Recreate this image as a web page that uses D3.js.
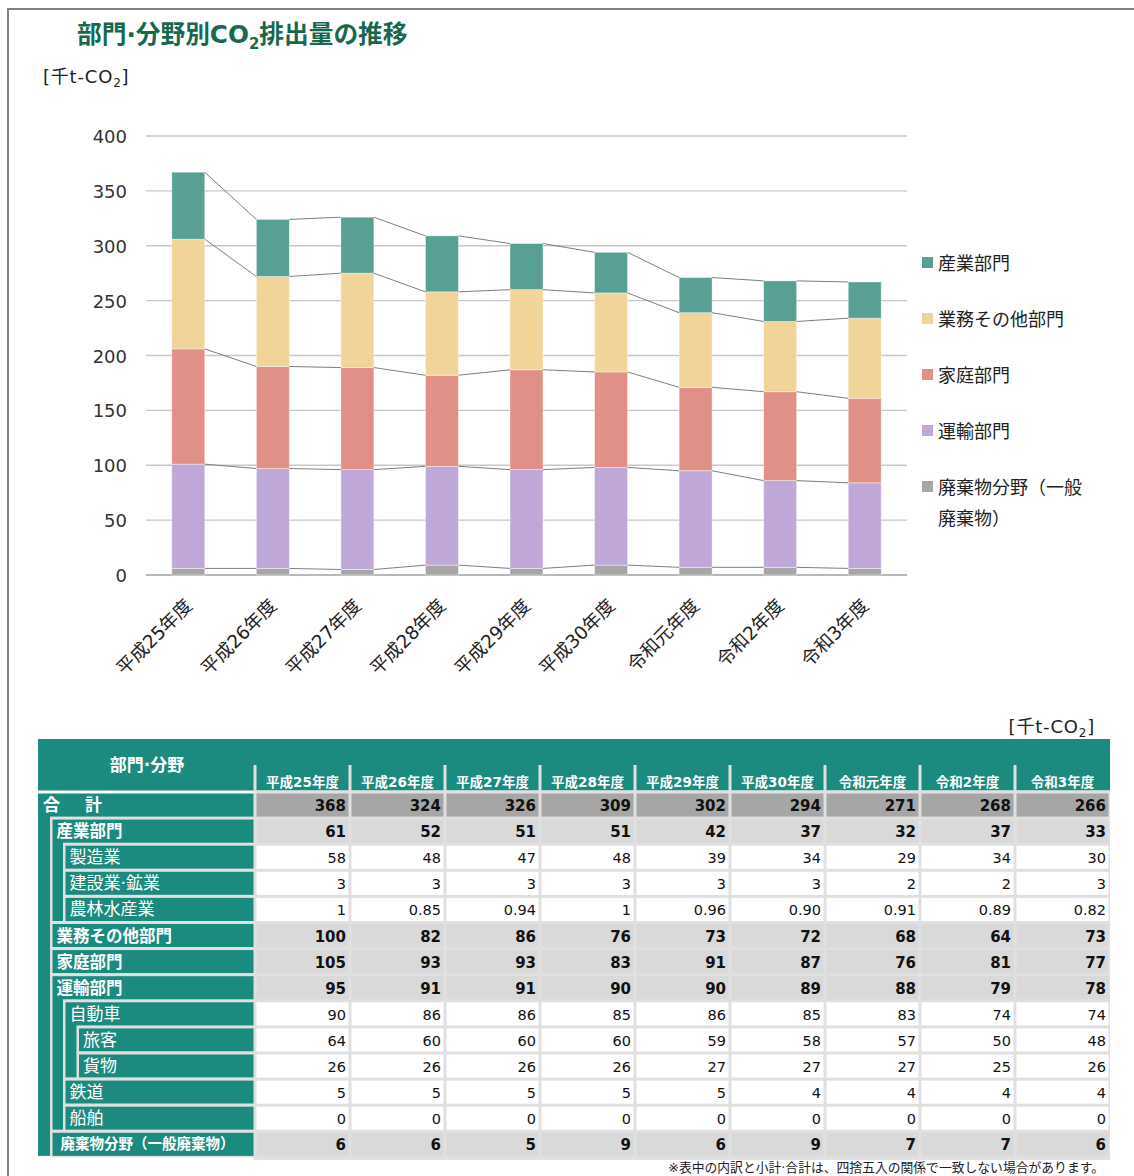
<!DOCTYPE html>
<html>
<head>
<meta charset="utf-8">
<script src="https://cdn.jsdelivr.net/npm/d3@7"></script>
<style>
  body { margin: 0; background: #fff; }
  svg text { font-family: "DejaVu Sans", "Noto Sans CJK JP", sans-serif; }
</style>
</head>
<body>
<div id="container"></div>
<script>
// years on the x axis / table columns
const years = ["平成25年度", "平成26年度", "平成27年度", "平成28年度", "平成29年度", "平成30年度", "令和元年度", "令和2年度", "令和3年度"];

// stacked series (千t-CO2)
const sangyo = [61, 52, 51, 51, 42, 37, 32, 37, 33];
const gyomu = [100, 82, 86, 76, 73, 72, 68, 64, 73];
const katei = [105, 93, 93, 83, 91, 87, 76, 81, 77];
const unyu = [95, 91, 91, 90, 90, 89, 88, 79, 78];
const haiki = [6, 6, 5, 9, 6, 9, 7, 7, 6];

// breakdown rows of the table
const total = [368, 324, 326, 309, 302, 294, 271, 268, 266];
const seizo = [58, 48, 47, 48, 39, 34, 29, 34, 30];
const kensetsu = [3, 3, 3, 3, 3, 3, 2, 2, 3];
const norin = [1, 0.85, 0.94, 1, 0.96, 0.90, 0.91, 0.89, 0.82];
const jidosha = [90, 86, 86, 85, 86, 85, 83, 74, 74];
const ryokaku = [64, 60, 60, 60, 59, 58, 57, 50, 48];
const kamotsu = [26, 26, 26, 26, 27, 27, 27, 25, 26];
const tetsudo = [5, 5, 5, 5, 5, 4, 4, 4, 4];
const senpaku = [0, 0, 0, 0, 0, 0, 0, 0, 0];

const yTicks = [0, 50, 100, 150, 200, 250, 300, 350, 400];

const seriesKeys = ["haiki", "unyu", "katei", "gyomu", "sangyo"]; // bottom -> top
const seriesNames = { sangyo: "産業部門", gyomu: "業務その他部門", katei: "家庭部門", unyu: "運輸部門", haiki: "廃棄物分野（一般廃棄物）" };
const colors = { sangyo: "#58a093", gyomu: "#f0d49a", katei: "#e09087", unyu: "#bfa8d8", haiki: "#a6a6a6" };

const W = 1134, H = 1176;
const teal = "#1b8a7f", gap = "#e0e0e0";

const svg = d3.select("#container").append("svg")
  .attr("width", W).attr("height", H);

// outer frame (top + left)
svg.append("path").attr("d", "M8,1176 V9 H1134")
  .attr("fill", "none").attr("stroke", "#808080").attr("stroke-width", 2);

// title
const title = svg.append("text").attr("x", 77).attr("y", 43)
  .attr("fill", "#17684f").style("font-size", "24.7px").style("font-weight", "bold");
title.append("tspan").text("部門·分野別CO");
title.append("tspan").text("2").attr("dy", 6).style("font-size", "15px");
title.append("tspan").text("排出量の推移").attr("dy", -6);

function unitLabel(x, y, anchor) {
  const t = svg.append("text").attr("x", x).attr("y", y).attr("text-anchor", anchor)
    .attr("fill", "#222").style("font-size", "18px").style("letter-spacing", "0.8px");
  t.append("tspan").text("[千t-CO");
  t.append("tspan").text("2").attr("dy", 4).style("font-size", "12px");
  t.append("tspan").text("]").attr("dy", -4);
}
unitLabel(43, 83, "start");

// ---- chart ----
const data = years.map((yr, i) => ({ year: yr, sangyo: sangyo[i], gyomu: gyomu[i], katei: katei[i], unyu: unyu[i], haiki: haiki[i] }));
const stacked = d3.stack().keys(seriesKeys)(data);

const x = d3.scaleBand().domain(years).range([146, 907]).paddingInner(0.61).paddingOuter(0.305);
const y = d3.scaleLinear().domain([0, 400]).range([575, 136]);

svg.append("g").selectAll("line").data(yTicks).join("line")
  .attr("x1", 146).attr("x2", 907)
  .attr("y1", d => y(d)).attr("y2", d => y(d))
  .attr("stroke", d => d === 0 ? "#a0a0a0" : "#c8c8c8").attr("stroke-width", 1.3);

svg.append("g").selectAll("text").data(yTicks).join("text")
  .attr("x", 127).attr("y", d => y(d) + 7).attr("text-anchor", "end")
  .attr("fill", "#333").style("font-size", "18px").text(d => d);

svg.append("g").selectAll("g").data(stacked).join("g")
  .attr("fill", d => colors[d.key])
  .selectAll("rect").data(d => d).join("rect")
  .attr("x", d => x(d.data.year)).attr("width", x.bandwidth())
  .attr("y", d => y(d[1])).attr("height", d => y(d[0]) - y(d[1]))
  .attr("stroke", "#ffffff").attr("stroke-opacity", 0.5).attr("stroke-width", 0.8);

// series lines between bars
stacked.forEach(layer => {
  const segs = d3.pairs(layer);
  svg.append("g").selectAll("line").data(segs).join("line")
    .attr("x1", d => x(d[0].data.year) + x.bandwidth())
    .attr("y1", d => y(d[0][1]))
    .attr("x2", d => x(d[1].data.year))
    .attr("y2", d => y(d[1][1]))
    .attr("stroke", "#7f7f7f").attr("stroke-width", 1);
});

// rotated x labels
svg.append("g").selectAll("text").data(years).join("text")
  .attr("transform", d => `translate(${x(d) + x.bandwidth() / 2 + 5},${607}) rotate(-45)`)
  .attr("text-anchor", "end").attr("fill", "#222").style("font-size", "18.5px")
  .text(d => d);

// legend
const legendKeys = ["sangyo", "gyomu", "katei", "unyu", "haiki"];
const lg = svg.append("g").selectAll("g").data(legendKeys).join("g")
  .attr("transform", (d, i) => `translate(922,${263 + i * 56})`);
lg.append("rect").attr("x", 0).attr("y", -6).attr("width", 11).attr("height", 11)
  .attr("fill", d => colors[d]);
lg.append("text").attr("x", 16).attr("y", 7).attr("fill", "#222").style("font-size", "18px")
  .each(function (d) {
    const t = d3.select(this);
    if (d === "haiki") {
      t.append("tspan").attr("x", 16).text("廃棄物分野（一般");
      t.append("tspan").attr("x", 16).attr("dy", 31).text("廃棄物）");
    } else {
      t.text(seriesNames[d]);
    }
  });

// ---- table ----
unitLabel(1095, 733, "end");

const rows = [
  { label: "合　計", level: 0, kind: "total", values: total },
  { label: "産業部門", level: 1, kind: "sub", values: sangyo },
  { label: "製造業", level: 2, kind: "detail", values: seizo },
  { label: "建設業·鉱業", level: 2, kind: "detail", values: kensetsu },
  { label: "農林水産業", level: 2, kind: "detail", values: norin },
  { label: "業務その他部門", level: 1, kind: "sub", values: gyomu },
  { label: "家庭部門", level: 1, kind: "sub", values: katei },
  { label: "運輸部門", level: 1, kind: "sub", values: unyu },
  { label: "自動車", level: 2, kind: "detail", values: jidosha },
  { label: "旅客", level: 3, kind: "detail", values: ryokaku },
  { label: "貨物", level: 3, kind: "detail", values: kamotsu },
  { label: "鉄道", level: 2, kind: "detail", values: tetsudo },
  { label: "船舶", level: 2, kind: "detail", values: senpaku },
  { label: "廃棄物分野（一般廃棄物）", level: 1, kind: "waste", values: haiki }
];
rows.forEach((r, i) => {
  let j = i + 1;
  while (j < rows.length && rows[j].level > r.level) j++;
  r.span = j - i;
});

const tLeft = 38, labelRight = 255, colW = 95;
const headTop = 739, row0 = 792, rowH = 26.1;
const indentX = [38, 52.5, 65.5, 79];
const col = d3.scaleBand().domain(years).range([labelRight, labelRight + colW * years.length]);
const rowY = i => row0 + i * rowH;
const tBottom = rowY(rows.length);

// header
svg.append("rect").attr("x", tLeft).attr("y", headTop).attr("width", col.range()[1] - tLeft).attr("height", row0 - 1.5 - headTop)
  .attr("fill", teal);
svg.append("g").selectAll("rect").data(years).join("rect")
  .attr("x", d => col(d) - 1.5).attr("y", 765).attr("width", 3).attr("height", row0 - 765)
  .attr("fill", gap);
svg.append("text").attr("x", 147).attr("y", 771).attr("text-anchor", "middle")
  .attr("fill", "#fff").style("font-size", "17px").style("font-weight", "bold").text("部門·分野");
svg.append("g").selectAll("text").data(years).join("text")
  .attr("x", d => col(d) + colW / 2).attr("y", 787).attr("text-anchor", "middle")
  .attr("fill", "#fff").style("font-size", "13.5px").style("font-weight", "bold").text(d => d);

// data background (gaps)
svg.append("rect").attr("x", labelRight - 1.5).attr("y", row0 - 1.5)
  .attr("width", col.range()[1] - labelRight + 1.5).attr("height", tBottom - row0 + 4)
  .attr("fill", gap);

// label column: nested teal blocks
const lab = svg.append("g");
rows.forEach((r, i) => {
  const x0 = indentX[r.level];
  if (r.level === 0) {
    lab.append("rect").attr("x", x0).attr("y", rowY(i) + 1.5).attr("width", labelRight - 1.5 - x0)
      .attr("height", r.span * rowH - 3).attr("fill", teal);
  } else {
    lab.append("rect").attr("x", x0 - 2.5).attr("y", rowY(i) - 1.5).attr("width", labelRight - x0 + 2.5)
      .attr("height", r.span * rowH + 1.5).attr("fill", gap);
    lab.append("rect").attr("x", x0).attr("y", rowY(i) + 1.5).attr("width", labelRight - 1.5 - x0)
      .attr("height", r.span * rowH - 3).attr("fill", teal);
  }
});
rows.forEach((r, i) => {
  const t = lab.append("text").attr("fill", "#fff").attr("y", rowY(i) + rowH / 2 + 6);
  if (r.kind === "total") {
    t.attr("x", 43).style("font-size", "17px").style("font-weight", "bold").style("letter-spacing", "4px");
  } else if (r.kind === "sub") {
    t.attr("x", indentX[r.level] + 4).style("font-size", "16.5px").style("font-weight", "bold");
  } else if (r.kind === "waste") {
    t.attr("x", indentX[r.level] + 8).style("font-size", "14.5px").style("font-weight", "bold").attr("y", rowY(i) + rowH / 2 + 5);
  } else {
    t.attr("x", indentX[r.level] + 4).style("font-size", "17px");
  }
  t.text(r.label);
});

// value cells
const fillFor = { total: "#a6a6a6", sub: "#d9d9d9", waste: "#d9d9d9", detail: "#ffffff" };
const fmt = v => Number.isInteger(v) ? String(v) : v.toFixed(2);
const cells = svg.append("g").selectAll("g").data(rows).join("g")
  .attr("transform", (d, i) => `translate(0,${rowY(i)})`);
cells.selectAll("rect").data(r => r.values.map((v, k) => ({ v, k, kind: r.kind }))).join("rect")
  .attr("x", d => col(years[d.k]) + 1.5).attr("y", 1.5)
  .attr("width", colW - 3).attr("height", rowH - 3)
  .attr("fill", d => fillFor[d.kind]);
cells.selectAll("text").data(r => r.values.map((v, k) => ({ v, k, kind: r.kind }))).join("text")
  .attr("x", d => col(years[d.k]) + colW - 4).attr("y", rowH / 2 + 6)
  .attr("text-anchor", "end").attr("fill", "#111")
  .style("font-size", d => d.kind === "detail" ? "14.5px" : "15px")
  .style("font-weight", d => d.kind === "detail" ? "normal" : "bold")
  .text(d => fmt(d.v));

// footnote
svg.append("text").attr("x", 1104).attr("y", 1172).attr("text-anchor", "end")
  .attr("fill", "#222").style("font-size", "12.8px")
  .text("※表中の内訳と小計·合計は、四捨五入の関係で一致しない場合があります。");
</script>
</body>
</html>
